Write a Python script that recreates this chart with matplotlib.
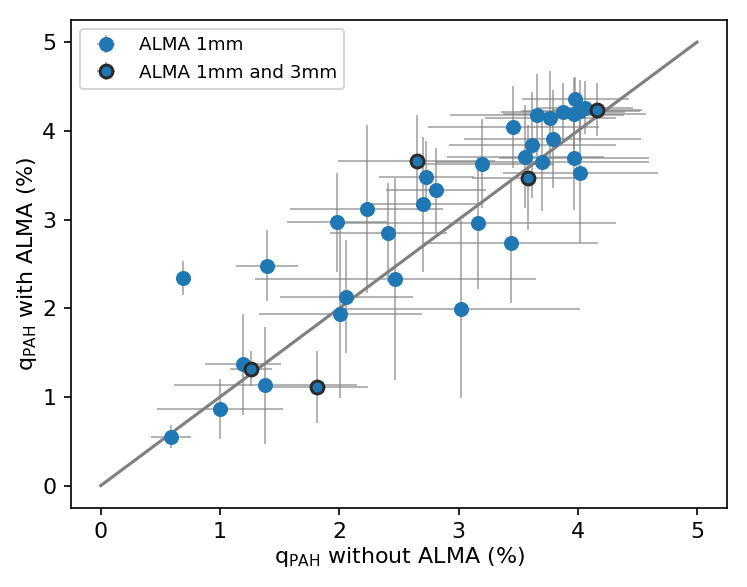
"""
q_PAH comparison: fits with and without the ALMA photometry.

Usage: python plot.py
Output: out.png
"""
import matplotlib
matplotlib.use("Agg")
import matplotlib.pyplot as plt

# ── Sources with ALMA 1mm only ───────────────────────────────────────────────

x_1mm = [0.59, 1.00, 1.19, 1.38, 0.69, 1.39, 2.01, 2.06, 1.98, 2.23, 2.41,
         2.47, 2.70, 2.73, 2.81, 3.02, 3.16, 3.20, 3.44, 3.46, 3.56, 3.62,
         3.70, 3.66, 3.77, 3.79, 3.88, 3.97, 3.98, 4.02, 4.06, 3.97, 4.02]
y_1mm = [0.55, 0.86, 1.37, 1.13, 2.34, 2.48, 1.94, 2.13, 2.97, 3.12, 2.85,
         2.33, 3.17, 3.48, 3.33, 1.99, 2.96, 3.63, 2.74, 4.04, 3.71, 3.84,
         3.65, 4.18, 4.14, 3.91, 4.21, 4.19, 4.36, 4.22, 4.26, 3.69, 3.53]
xerr_1mm = [0.17, 0.53, 0.32, 0.77, 0.05, 0.26, 0.68, 0.56, 0.42, 0.64, 0.49,
            1.18, 0.50, 0.40, 0.42, 1.00, 1.16, 0.60, 0.73, 0.72, 0.66, 0.70,
            0.90, 0.73, 0.55, 0.74, 0.52, 0.60, 0.45, 0.50, 0.40, 0.63, 0.65]
yerr_1mm = [0.13, 0.34, 0.57, 0.66, 0.19, 0.40, 0.95, 0.64, 0.56, 0.95, 0.56,
            1.14, 0.76, 0.40, 0.48, 1.00, 0.74, 0.50, 0.68, 0.46, 0.58, 0.60,
            0.55, 0.46, 0.54, 0.55, 0.33, 0.40, 0.25, 0.35, 0.30, 0.58, 0.80]

# ── Sources with ALMA 1mm and 3mm ────────────────────────────────────────────

x_both = [1.26, 1.81, 2.65, 3.58, 4.16]
y_both = [1.32, 1.11, 3.66, 3.47, 4.24]
xerr_both = [0.18, 0.43, 0.66, 0.47, 0.38]
yerr_both = [0.20, 0.41, 0.52, 0.59, 0.30]

one_to_one = [0, 5]

LABEL_SIZE = 10.6
LEGEND_SIZE = 8.8


def main():
    fig = plt.figure(figsize=(747 / 150, 587 / 150), dpi=150)
    ax = fig.add_axes([0.095, 0.135, 0.878, 0.831])

    ax.plot(one_to_one, one_to_one, color="gray", linewidth=1.5, zorder=1)

    err_kw = dict(fmt="o", ms=6.2, ecolor="gray", elinewidth=0.75, capsize=0)
    eb1 = ax.errorbar(x_1mm, y_1mm, xerr=xerr_1mm, yerr=yerr_1mm,
                      color="#1f77b4", label="ALMA 1mm", **err_kw)
    eb2 = ax.errorbar(x_both, y_both, xerr=xerr_both, yerr=yerr_both,
                      color="#1f77b4", mec="#2b2b2b", mew=1.4,
                      label="ALMA 1mm and 3mm", **err_kw)
    for eb in (eb1, eb2):
        for coll in eb[2]:
            coll.set_alpha(0.75)

    ax.set_xlim(-0.25, 5.25)
    ax.set_ylim(-0.25, 5.25)
    ax.set_xticks([0, 1, 2, 3, 4, 5])
    ax.set_yticks([0, 1, 2, 3, 4, 5])
    ax.tick_params(labelsize=LABEL_SIZE)
    ax.set_xlabel(r"q$_{\mathrm{PAH}}$ without ALMA (%)", fontsize=LABEL_SIZE,
                  labelpad=1.5)
    ax.set_ylabel(r"q$_{\mathrm{PAH}}$ with ALMA (%)", fontsize=LABEL_SIZE,
                  labelpad=1.5)
    ax.legend(loc="upper left", fontsize=LEGEND_SIZE)

    fig.savefig("out.png", dpi=150)


if __name__ == "__main__":
    main()
